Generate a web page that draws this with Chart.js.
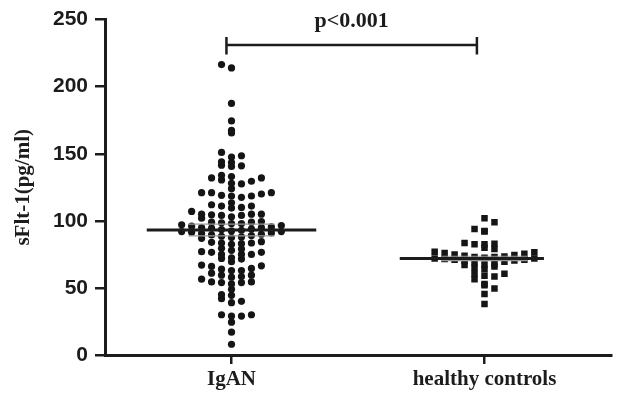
<!DOCTYPE html>
<html>
<head>
<meta charset="utf-8">
<script src="https://cdn.jsdelivr.net/npm/chart.js@4.4.1/dist/chart.umd.min.js"></script>
<style>
  html, body { margin: 0; padding: 0; background: #fff; }
</style>
</head>
<body>
<canvas id="chart" width="620" height="400"></canvas>
<script>
// groups on the x axis
const groups = ['IgAN', 'healthy controls'];

// sFlt-1 values (pg/ml)
const igan = [
  216.5, 214, 187.5, 174.5, 167.5, 165.5,
  151, 148.5, 147.5,
  144, 143.5, 141.5, 141, 140.5,
  134, 133, 132, 132, 130.5, 129.5, 128, 127.5,
  124,
  121, 121, 121, 120, 119, 118.5, 118.5, 117.5,
  113.5,
  112, 111, 111, 110, 109.5,
  107, 105, 105, 105, 104.5, 104, 104, 103, 102,
  99.5, 99, 99, 98.5, 98, 98,
  97, 96.5, 96, 95.5, 95, 95, 94.5, 94, 93.5, 93, 92.5, 92, 92, 91.5, 91, 90.5, 90, 89.5, 89, 88.5, 88, 87.5, 87,
  84.5, 84, 83.5, 83.5, 83, 82.5,
  79.5, 79, 78, 77, 76.5, 76.5, 75, 75, 75, 72.5, 72, 71.5, 69.5,
  67, 66.5, 66, 64.5, 64, 63, 63, 61,
  59.5, 59.5, 58.5, 58, 56.5, 54.5, 54.5, 54, 54, 53,
  49,
  45, 44.5, 42,
  40, 39,
  30, 30, 29, 29, 24.5,
  17, 8
];
const controls = [
  102, 99, 94, 92.5, 92, 83.5, 83, 82.5, 82.5, 80, 79,
  77, 76.5, 76, 75.5, 75, 74.5, 74, 73.5, 73, 73, 72.5, 72, 72, 71.5, 71, 71, 70.5, 70, 69.5, 69, 68, 67.5, 67, 66,
  65, 64, 60.5, 60.5, 59, 58.5, 56.5, 53, 52, 49.5, 45.5, 38
];

// mean and SEM per group
const means = [93.2, 72];
const sems = [4.4, 1.6];

const yTicks = [0, 50, 100, 150, 200, 250];

// significance bracket
const pLabel = 'p<0.001';
const bracketY = 231;
const bracketTicks = [224, 237];
const bracketX = [0.98, 1.97];

const ink = '#1c1c1c';
const step = 0.0394;  // one scatter column, in x units (about 10 px)
const rowSize = 5;    // values within one row band are spread sideways

function seg(x0, y0, x1, y1, color, width) {
  return {
    type: 'line',
    data: [{ x: x0, y: y0 }, { x: x1, y: y1 }],
    borderColor: color,
    borderWidth: width,
    pointRadius: 0,
    showLine: true,
    order: 0
  };
}

// Prism-style column scatter: values are grouped in rows, each row is spread
// over whole columns around the group centre, dots keep their own y value
function swarm(values, center) {
  const rows = {};
  values.forEach(v => {
    const k = Math.round(v / rowSize);
    (rows[k] = rows[k] || []).push(v);
  });
  const pts = [];
  Object.keys(rows).forEach(k => {
    const row = rows[k].slice().sort((a, b) => b - a);
    const n = row.length;
    // highest values at the two ends, lowest in the middle
    const left = row.filter((v, i) => i % 2 === 0);
    const right = row.filter((v, i) => i % 2 === 1).reverse();
    const arranged = left.concat(right);
    const first = -Math.floor((n - (k % 2 ? 0 : 1)) / 2);
    arranged.forEach((v, i) => pts.push({ x: center + (first + i) * step, y: v }));
  });
  return pts;
}

const datasets = [
  // mean lines
  seg(1 - 0.335, means[0], 1 + 0.335, means[0], ink, 3),
  seg(2 - 0.335, means[1], 2 + 0.235, means[1], ink, 3),
  // SEM lines
  seg(1 - 0.17, means[0] + sems[0], 1 + 0.17, means[0] + sems[0], '#9a9a9a', 1.2),
  seg(1 - 0.17, means[0] - sems[0], 1 + 0.17, means[0] - sems[0], '#9a9a9a', 1.2),
  seg(2 - 0.17, means[1] + sems[1], 2 + 0.17, means[1] + sems[1], '#9a9a9a', 1.2),
  seg(2 - 0.17, means[1] - sems[1], 2 + 0.17, means[1] - sems[1], '#9a9a9a', 1.2),
  // bracket
  seg(bracketX[0], bracketY, bracketX[1], bracketY, ink, 2.5),
  seg(bracketX[0], bracketTicks[0], bracketX[0], bracketTicks[1], ink, 2.5),
  seg(bracketX[1], bracketTicks[0], bracketX[1], bracketTicks[1], ink, 2.5),
  {
    label: groups[0],
    data: swarm(igan, 1),
    pointStyle: 'circle',
    pointRadius: 3.6,
    backgroundColor: '#151515',
    borderWidth: 0,
    order: 2
  },
  {
    label: groups[1],
    data: swarm(controls, 2),
    pointStyle: 'rect',
    pointRadius: 4.6,
    backgroundColor: '#151515',
    borderWidth: 0,
    order: 2
  }
];

// p value text above the bracket
const pText = {
  id: 'pText',
  afterDatasetsDraw(chart) {
    const { ctx, scales: { x, y } } = chart;
    ctx.save();
    ctx.font = 'bold 22px "Liberation Serif"';
    ctx.fillStyle = ink;
    ctx.textAlign = 'center';
    ctx.textBaseline = 'middle';
    ctx.fillText(pLabel, x.getPixelForValue((bracketX[0] + bracketX[1]) / 2), y.getPixelForValue(249));
    ctx.restore();
  }
};

new Chart(document.getElementById('chart'), {
  type: 'scatter',
  data: { datasets },
  plugins: [pText],
  options: {
    responsive: false,
    devicePixelRatio: 1,
    animation: false,
    layout: { padding: { top: 17, right: 9, left: 0, bottom: 0 } },
    plugins: { legend: { display: false }, tooltip: { enabled: false } },
    scales: {
      x: {
        type: 'linear',
        min: 0.5,
        max: 2.5,
        afterBuildTicks: s => { s.ticks = groups.map((g, i) => ({ value: i + 1 })); },
        afterFit: s => { s.height = 45; },
        ticks: {
          callback: v => groups[Math.round(v) - 1],
          font: { family: 'Liberation Serif', weight: 'bold', size: 21 },
          color: ink,
          padding: 3,
          maxRotation: 0,
          autoSkip: false
        },
        grid: { drawOnChartArea: false, tickLength: 9, lineWidth: 2.5, color: ink },
        border: { width: 3, color: ink }
      },
      y: {
        min: 0,
        max: 250,
        afterBuildTicks: s => { s.ticks = yTicks.map(v => ({ value: v })); },
        afterFit: s => { s.width = 105; },
        ticks: {
          font: { family: 'Liberation Sans', weight: 'bold', size: 21 },
          color: ink,
          padding: 7
        },
        grid: { drawOnChartArea: false, tickLength: 10, lineWidth: 2.5, color: ink },
        border: { width: 3, color: ink },
        title: {
          display: true,
          text: 'sFlt-1(pg/ml)',
          font: { family: 'Liberation Serif', weight: 'bold', size: 21 },
          color: ink,
          padding: { top: 11, bottom: 0 }
        }
      }
    }
  }
});
</script>
</body>
</html>
